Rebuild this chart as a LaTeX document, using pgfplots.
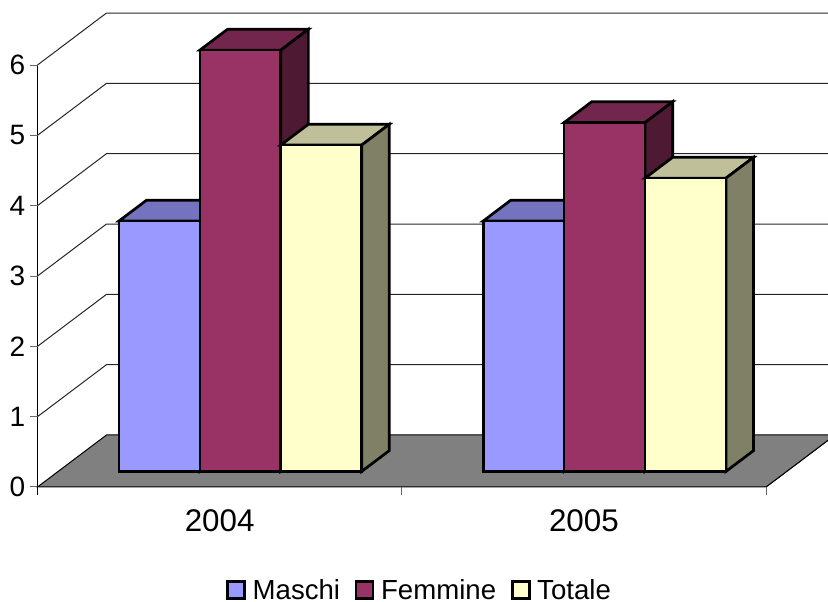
\documentclass[border=0pt]{standalone}
\usepackage{fontspec}
\setmainfont{Liberation Sans}
\usepackage{pgfplots}
\pgfplotsset{compat=1.18}
\newlength\px
\setlength\px{0.75pt}
\definecolor{masF}{HTML}{9999FF}\definecolor{masT}{HTML}{7373BF}\definecolor{masS}{HTML}{4D4D80}
\definecolor{femF}{HTML}{993366}\definecolor{femT}{HTML}{73264D}\definecolor{femS}{HTML}{4D1933}
\definecolor{totF}{HTML}{FFFFCC}\definecolor{totT}{HTML}{BFBF99}\definecolor{totS}{HTML}{808066}
% one 3D bar: x0, x1, value, colour prefix
\newcommand{\threedbar}[4]{
  \addplot3[forget plot,fill=#4T,draw=black,line width=2.7\px] coordinates {(#1,0.3,#3) (#2,0.3,#3) (#2,0.7,#3) (#1,0.7,#3)} --cycle;
  \addplot3[forget plot,fill=#4S,draw=black,line width=2.7\px] coordinates {(#2,0.3,0) (#2,0.7,0) (#2,0.7,#3) (#2,0.3,#3)} --cycle;
  \addplot3[forget plot,fill=#4F,draw=black,line width=2.7\px] coordinates {(#1,0.3,0) (#2,0.3,0) (#2,0.3,#3) (#1,0.3,#3)} --cycle;
}
\newcommand{\wall}[1]{
  \addplot3[forget plot,draw=black!85,line width=1\px] coordinates {(0,0,#1) (0,1,#1) (2,1,#1)};
}
% pgfplots slants 3D ticks, so they are drawn as short lines
\newcommand{\ztk}[1]{
  \addplot3[forget plot,draw=black!60,line width=1\px] coordinates {(-0.0206,0,#1) (0,0,#1)};
}
\newcommand{\xtk}[1]{
  \addplot3[forget plot,draw=black!60,line width=1\px] coordinates {(#1,0,0) (#1,0,-0.114)};
}
\pgfplotsset{
  keybox/.style={legend image code/.code={
    \draw[##1,line width=2.7\px] (0,-8\px) rectangle (17\px,9\px);}},
}
\begin{document}
\begin{tikzpicture}[x=1\px,y=1\px]
\useasboundingbox (0,0) rectangle (828,602);
\clip (0,0) rectangle (828,602);
\begin{axis}[
  disabledatascaling,
  anchor=origin,
  at={(37.5\px,115\px)},
  x={(364.25\px,0\px)},
  y={(69\px,52\px)},
  z={(0\px,70.33\px)},
  xmin=0,xmax=2,ymin=0,ymax=1,zmin=0,zmax=6,
  clip=false,
  axis lines*=left,
  axis line style={black,line width=1\px},
  xtick={0.5,1.5},
  xticklabels={2004,2005},
  ytick=\empty,
  ztick={0,1,2,3,4,5,6},
  tick style={draw=none},
  major tick length=0pt,
  /pgf/number format/assume math mode=true,
  xticklabel style={font=\fontsize{23.5}{26}\selectfont,anchor=north,inner sep=0pt,yshift=-22\px},
  zticklabel style={font=\fontsize{21}{24}\selectfont,anchor=east,inner sep=0pt,xshift=-12\px},
  legend style={
    at={(0.4795,-0.219)},anchor=center,
    draw=none,fill=none,
    legend columns=3,
    font=\fontsize{20.7}{22}\selectfont,
    nodes={inner ysep=0pt},
    /tikz/every odd column/.append style={column sep=4\px},
    /tikz/every even column/.append style={column sep=12\px},
  },
  legend cell align=left,
]
\wall{1}\wall{2}\wall{3}\wall{4}\wall{5}\wall{6}
\ztk{0}\ztk{1}\ztk{2}\ztk{3}\ztk{4}\ztk{5}\ztk{6}
\addplot3[forget plot,fill=black!50,draw=black,line width=1\px] coordinates {(0,0,0) (2,0,0) (2,1,0) (0,1,0)} --cycle;
\addplot3[forget plot,draw=black,line width=1\px] coordinates {(0,0,0) (0,0,-0.114)};
\xtk{1}\xtk{2}
% 2004
\threedbar{0.1667}{0.3889}{3.56}{mas}
\threedbar{0.3889}{0.6111}{5.99}{fem}
\threedbar{0.6111}{0.8333}{4.64}{tot}
% 2005
\threedbar{1.1667}{1.3889}{3.56}{mas}
\threedbar{1.3889}{1.6111}{4.96}{fem}
\threedbar{1.6111}{1.8333}{4.17}{tot}
\addlegendimage{keybox,fill=masF,draw=black}
\addlegendentry{Maschi}
\addlegendimage{keybox,fill=femF,draw=black}
\addlegendentry{Femmine}
\addlegendimage{keybox,fill=totF,draw=black}
\addlegendentry{Totale}
\end{axis}
\end{tikzpicture}
\end{document}
